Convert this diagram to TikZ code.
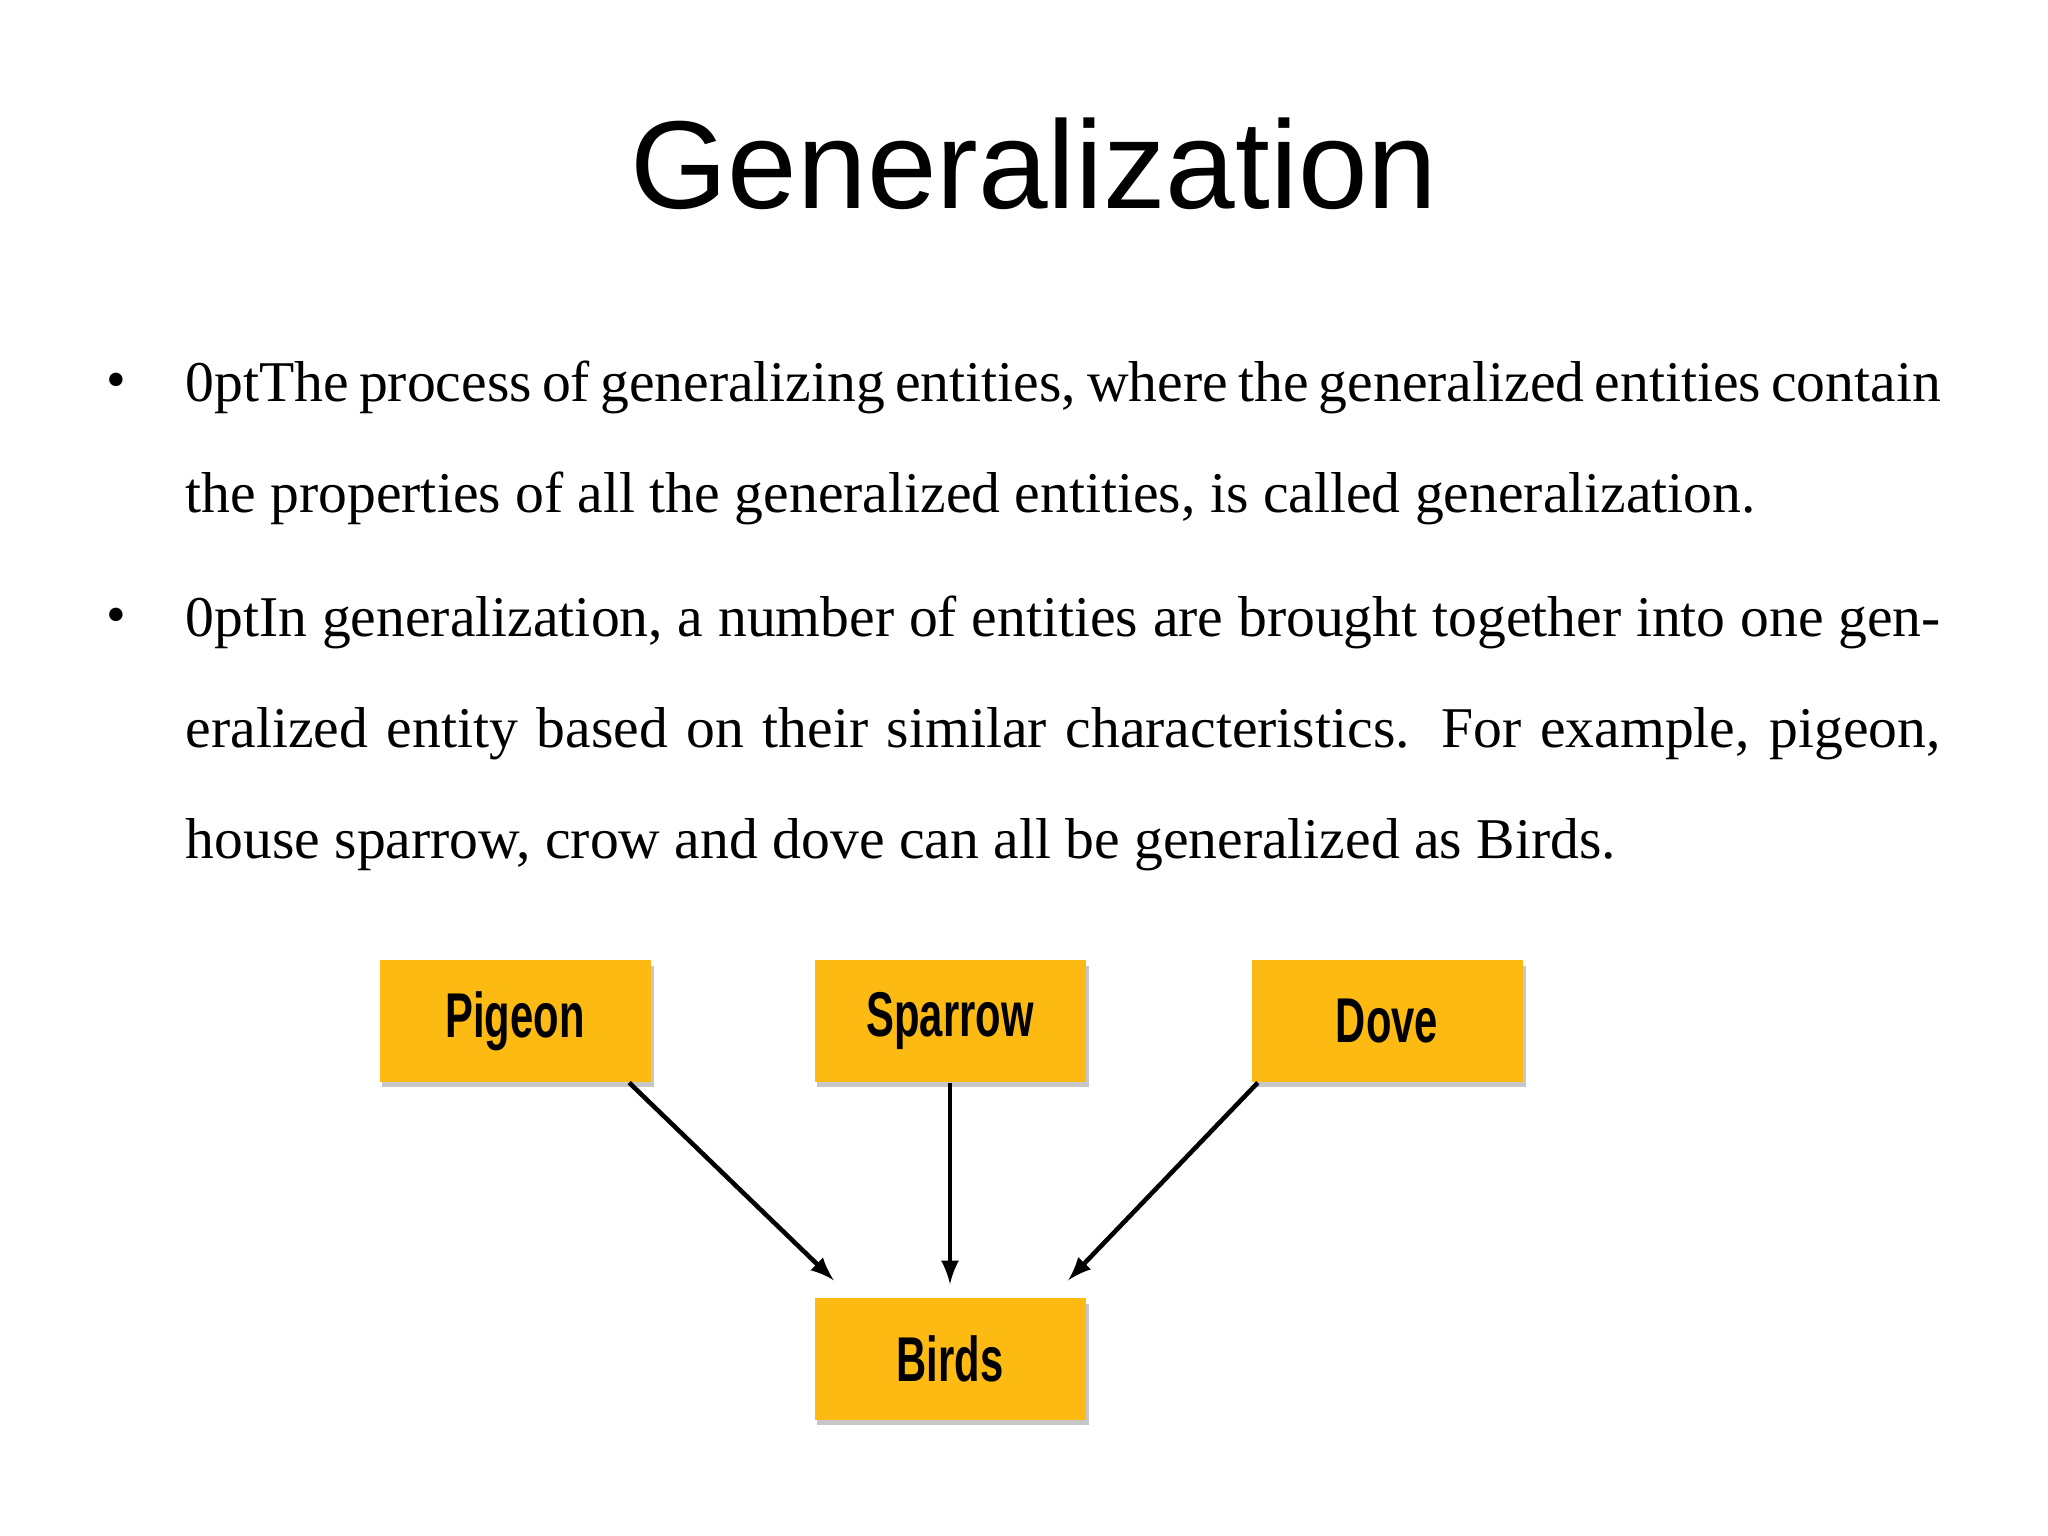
\documentclass[tikz,border=0pt]{standalone}
\usepackage{fontspec}
\setmainfont{Liberation Serif}
\newfontfamily\headfont{Liberation Sans}
\usetikzlibrary{calc}
\begin{document}
\begin{tikzpicture}[
  ent/.style={fill=boxy, minimum width=2.71cm, minimum height=1.22cm, inner sep=0pt,
    font=\headfont\fontsize{18}{20}\selectfont},
  shad/.style={fill=black!22},
  arr/.style={-latex, line width=1.3pt},
  para/.style={anchor=north west, inner sep=0pt, text width=17.55cm, align=justify,
    font=\fontsize{16.4}{31.6}\selectfont\hyphenpenalty=10000\exhyphenpenalty=10000}
]
\definecolor{boxy}{HTML}{FCBA12}
\useasboundingbox (0,0) rectangle (20.48,15.36);
\fill[white] (0,0) rectangle (20.48,15.36);
\node[anchor=base, font=\headfont\fontsize{35.6}{40}\selectfont] (title) at (10.34,13.27) {Generalization};
\node[anchor=base, font=\fontsize{16}{20}\selectfont] (b1) at (1.16,11.37) {\textbullet};
\node[para] (p1) at (1.85,11.76)
 {The process of generalizing entities, where the generalized entities contain the properties of all the generalized entities, is called generalization.};
\node[anchor=base, font=\fontsize{16}{20}\selectfont] (b2) at (1.16,9.02) {\textbullet};
\node[para] (p2) at (1.85,9.41)
 {In generalization, a number of entities are brought together into one generalized entity based on their similar characteristics. For example, pigeon, house sparrow, crow and dove can all be generalized as Birds.};
\foreach \n/\x/\y/\t in {pg/5.15/5.15/Pigeon, sp/9.5/5.15/Sparrow, dv/13.87/5.15/Dove, bd/9.5/1.77/Birds}{
  \fill[shad] (\x-1.33,\y-0.66) rectangle (\x+1.39,\y+0.55);
  \node[ent] (\n) at (\x,\y) {\scalebox{0.66}[1]{\textbf{\t}}};
}
\coordinate (pgs) at ($(pg.south east)+(-0.22,0)$);
\coordinate (dvs) at ($(dv.south west)+(0.07,0)$);
\coordinate (bl) at ($(bd.north west)+(0.2,0.17)$);
\coordinate (br) at ($(bd.north east)+(-0.18,0.17)$);
\draw[arr] (pgs) -- (bl);
\draw[arr] (sp.south) -- ($(bd.north)+(0,0.13)$);
\draw[arr] (dvs) -- (br);
\end{tikzpicture}
\end{document}
